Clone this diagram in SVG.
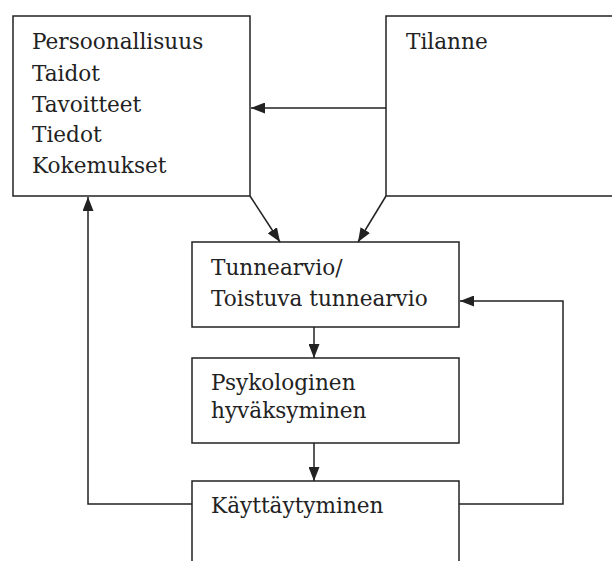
<svg xmlns="http://www.w3.org/2000/svg" width="612" height="561" viewBox="0 0 612 561">
  <style>
    .box { fill: #fff; stroke: #222; stroke-width: 1.5; }
    .lbl { font-family: "DejaVu Serif", "Liberation Serif", serif; font-size: 21.6px; fill: #222; }
    .conn { fill: none; stroke: #222; stroke-width: 1.5; }
  </style>
  <defs>
    <marker id="arrow" viewBox="0 0 14 11" refX="14" refY="5.5" markerWidth="14" markerHeight="11" markerUnits="userSpaceOnUse" orient="auto">
      <path d="M0,0 L14,5.5 L0,11 Z" fill="#222"/>
    </marker>
  </defs>

  <rect width="612" height="561" fill="#fff"/>

  <g id="node-persoonallisuus">
    <rect class="box" x="13" y="16" width="237" height="180"/>
    <text class="lbl" x="32" y="49">Persoonallisuus</text>
    <text class="lbl" x="32" y="80.5">Taidot</text>
    <text class="lbl" x="32" y="111.5">Tavoitteet</text>
    <text class="lbl" x="32" y="142">Tiedot</text>
    <text class="lbl" x="32" y="173">Kokemukset</text>
  </g>

  <g id="node-tilanne">
    <rect class="box" x="386" y="16" width="240" height="180"/>
    <text class="lbl" x="406" y="49">Tilanne</text>
  </g>

  <g id="node-tunnearvio">
    <rect class="box" x="192" y="242" width="267" height="85"/>
    <text class="lbl" x="211" y="275">Tunnearvio/</text>
    <text class="lbl" x="211" y="306">Toistuva tunnearvio</text>
  </g>

  <g id="node-psykologinen">
    <rect class="box" x="192" y="358" width="267" height="85"/>
    <text class="lbl" x="211" y="390">Psykologinen</text>
    <text class="lbl" x="211" y="418">hyväksyminen</text>
  </g>

  <g id="node-kayttaytyminen">
    <rect class="box" x="192" y="481" width="267" height="100"/>
    <text class="lbl" x="211" y="513">Käyttäytyminen</text>
  </g>

  <g id="connectors">
    <line class="conn" x1="386" y1="108" x2="251" y2="108" marker-end="url(#arrow)"/>
    <line class="conn" x1="250" y1="196" x2="280" y2="242" marker-end="url(#arrow)"/>
    <line class="conn" x1="386" y1="196" x2="358" y2="242" marker-end="url(#arrow)"/>
    <line class="conn" x1="314" y1="327" x2="314" y2="358" marker-end="url(#arrow)"/>
    <line class="conn" x1="314" y1="443" x2="314" y2="481" marker-end="url(#arrow)"/>
    <polyline class="conn" points="192,504 88,504 88,197" marker-end="url(#arrow)"/>
    <polyline class="conn" points="459,504 563,504 563,301 460,301" marker-end="url(#arrow)"/>
  </g>
</svg>
